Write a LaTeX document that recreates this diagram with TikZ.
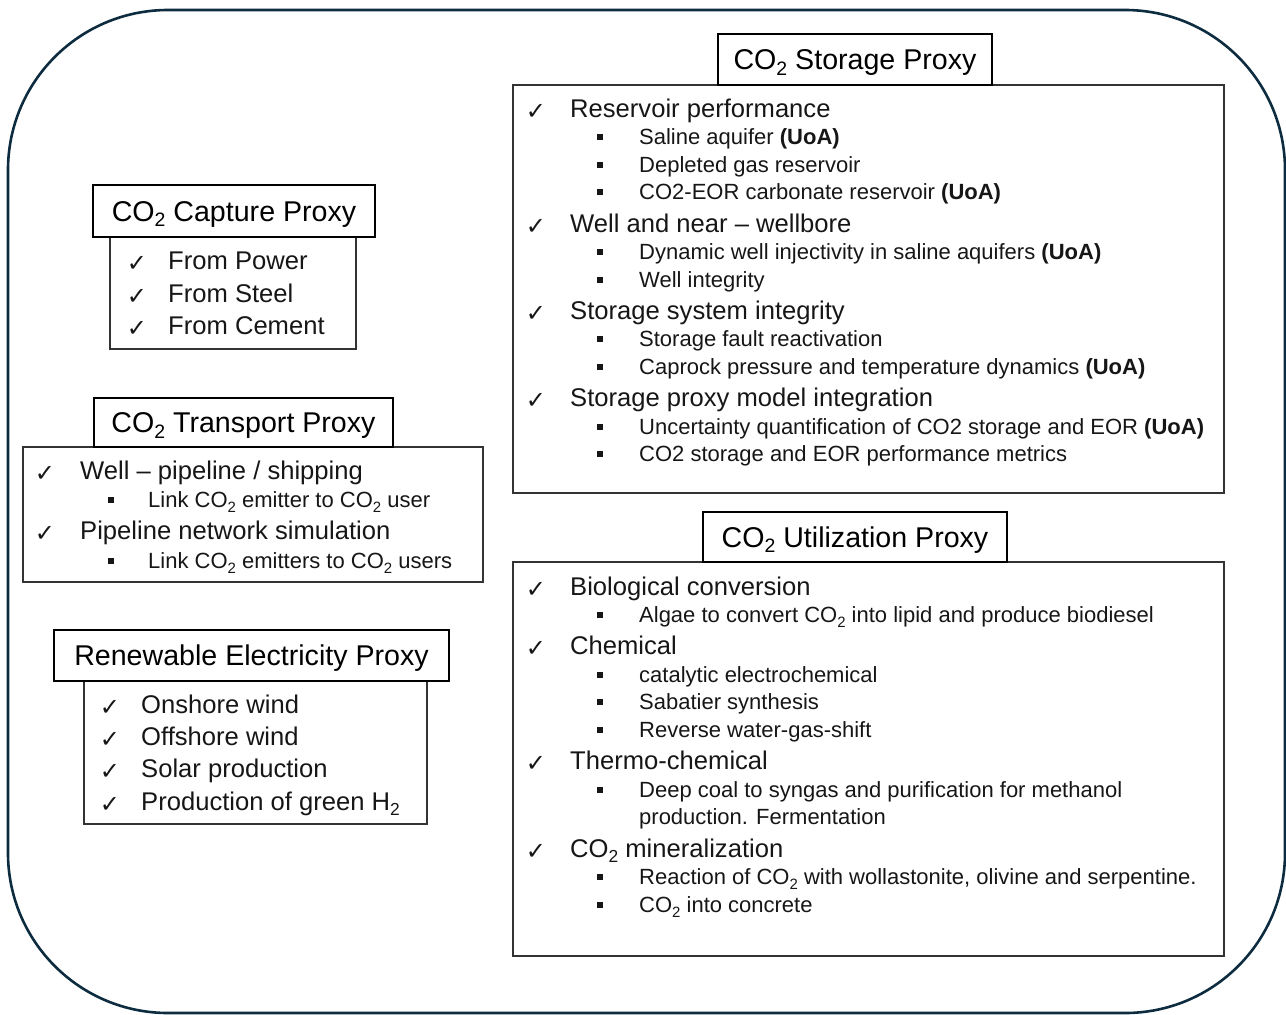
\documentclass[tikz,border=0pt]{standalone}
\usepackage{fontspec}
\usepackage{graphicx}
\setmainfont{Liberation Sans}
\newfontfamily\symf{DejaVu Sans}
\usetikzlibrary{calc}
\definecolor{outerc}{HTML}{0E2C3F}
\definecolor{txtc}{HTML}{161616}
\definecolor{boxc}{HTML}{333333}
\newcommand\subtwo{\raisebox{-0.38ex}{\scalebox{0.68}{2}}}
\newcommand\COtwo{CO\subtwo}
\tikzset{
  outerbox/.style={draw=outerc, line width=2.6pt, rounded corners=160pt},
  contentbox/.style={draw=boxc, line width=1.3pt},
  titlebox/.style={draw=black, line width=2.2pt, fill=white, inner sep=0pt, text=black,
     text height=20.4pt, text depth=0pt, font=\fontsize{28.6}{32}\selectfont},
  chkmark/.style={inner sep=0pt, text=txtc, yshift=-3.5pt, font=\symf\fontsize{24}{28}\selectfont},
  sqbullet/.style={fill=txtc, inner sep=0pt, minimum size=6.5pt},
  maintxt/.style={anchor=west, inner sep=0pt, text=txtc, text height=18.3pt, text depth=0pt,
     font=\fontsize{25.6}{30}\selectfont},
  subtxt/.style={anchor=west, inner sep=0pt, text=txtc, text height=15.75pt, text depth=0pt,
     font=\fontsize{22}{26}\selectfont},
}
% name, check x, text x, y, text
\newcommand\chkitem[5]{%
  \node[chkmark] (#1c) at (#2,#4) {✓};
  \node[maintxt] (#1) at (#3,#4) {#5};}
% name, bullet x, text x, y, text
\newcommand\bulitem[5]{%
  \node[sqbullet] (#1b) at (#2,#4) {};
  \node[subtxt] (#1) at (#3,#4) {#5};}
\begin{document}
\begin{tikzpicture}[x=1pt,y=-1pt]
\useasboundingbox (0,0) rectangle (1286,1015);
\draw[outerbox] (8,10) rectangle (1285,1013);

% ---------- Capture ----------
\draw[contentbox] (110,237) rectangle (356,349);
\node[titlebox, minimum width=282pt, minimum height=52pt] (capT) at (234,211) {\COtwo{} Capture Proxy};
\chkitem{cap1}{137}{168}{260}{From Power}
\chkitem{cap2}{137}{168}{293}{From Steel}
\chkitem{cap3}{137}{168}{325}{From Cement}

% ---------- Transport ----------
\draw[contentbox] (23,447) rectangle (483,582);
\node[titlebox, minimum width=299pt, minimum height=49pt] (traT) at (243.5,422.5) {\COtwo{} Transport Proxy};
\chkitem{tr1}{45}{80}{470}{Well – pipeline / shipping}
\bulitem{tr1a}{111}{148}{500}{Link \COtwo{} emitter to \COtwo{} user}
\chkitem{tr2}{45}{80}{530}{Pipeline network simulation}
\bulitem{tr2a}{111}{148}{561}{Link \COtwo{} emitters to \COtwo{} users}

% ---------- Renewable ----------
\draw[contentbox] (84,681) rectangle (427,824);
\node[titlebox, minimum width=395pt, minimum height=51pt] (renT) at (251.5,655.5) {Renewable Electricity Proxy};
\chkitem{re1}{110}{141}{704}{Onshore wind}
\chkitem{re2}{110}{141}{736}{Offshore wind}
\chkitem{re3}{110}{141}{768}{Solar production}
\chkitem{re4}{110}{141}{801}{Production of green H\subtwo}

% ---------- Storage ----------
\draw[contentbox] (513,85) rectangle (1224,493);
\node[titlebox, minimum width=274pt, minimum height=51pt] (stoT) at (855,59.5) {\COtwo{} Storage Proxy};
\chkitem{st1}{536}{570}{108}{Reservoir performance}
\bulitem{st1a}{600}{639}{137}{Saline aquifer \textbf{(UoA)}}
\bulitem{st1b}{600}{639}{165}{Depleted gas reservoir}
\bulitem{st1c}{600}{639}{192}{CO2-EOR carbonate reservoir \textbf{(UoA)}}
\chkitem{st2}{536}{570}{223}{Well and near – wellbore}
\bulitem{st2a}{600}{639}{252}{Dynamic well injectivity in saline aquifers \textbf{(UoA)}}
\bulitem{st2b}{600}{639}{280}{Well integrity}
\chkitem{st3}{536}{570}{310}{Storage system integrity}
\bulitem{st3a}{600}{639}{339}{Storage fault reactivation}
\bulitem{st3b}{600}{639}{367}{Caprock pressure and temperature dynamics \textbf{(UoA)}}
\chkitem{st4}{536}{570}{397}{Storage proxy model integration}
\bulitem{st4a}{600}{639}{427}{Uncertainty quantification of CO2 storage and EOR \textbf{(UoA)}}
\bulitem{st4b}{600}{639}{454}{CO2 storage and EOR performance metrics}

% ---------- Utilization ----------
\draw[contentbox] (513,562) rectangle (1224,956);
\node[titlebox, minimum width=304pt, minimum height=50pt] (utiT) at (855,537) {\COtwo{} Utilization Proxy};
\chkitem{ut1}{536}{570}{586}{Biological conversion}
\bulitem{ut1a}{600}{639}{615}{Algae to convert \COtwo{} into lipid and produce biodiesel}
\chkitem{ut2}{536}{570}{645}{Chemical}
\bulitem{ut2a}{600}{639}{675}{catalytic electrochemical}
\bulitem{ut2b}{600}{639}{702}{Sabatier synthesis}
\bulitem{ut2c}{600}{639}{730}{Reverse water-gas-shift}
\chkitem{ut3}{536}{570}{760}{Thermo-chemical}
\bulitem{ut3a}{600}{639}{790}{Deep coal to syngas and purification for methanol}
\node[subtxt] (ut3b) at (639,817) {production. Fermentation};
\chkitem{ut4}{536}{570}{848}{\COtwo{} mineralization}
\bulitem{ut4a}{600}{639}{877}{Reaction of \COtwo{} with wollastonite, olivine and serpentine.}
\bulitem{ut4b}{600}{639}{905}{\COtwo{} into concrete}
\end{tikzpicture}
\end{document}
